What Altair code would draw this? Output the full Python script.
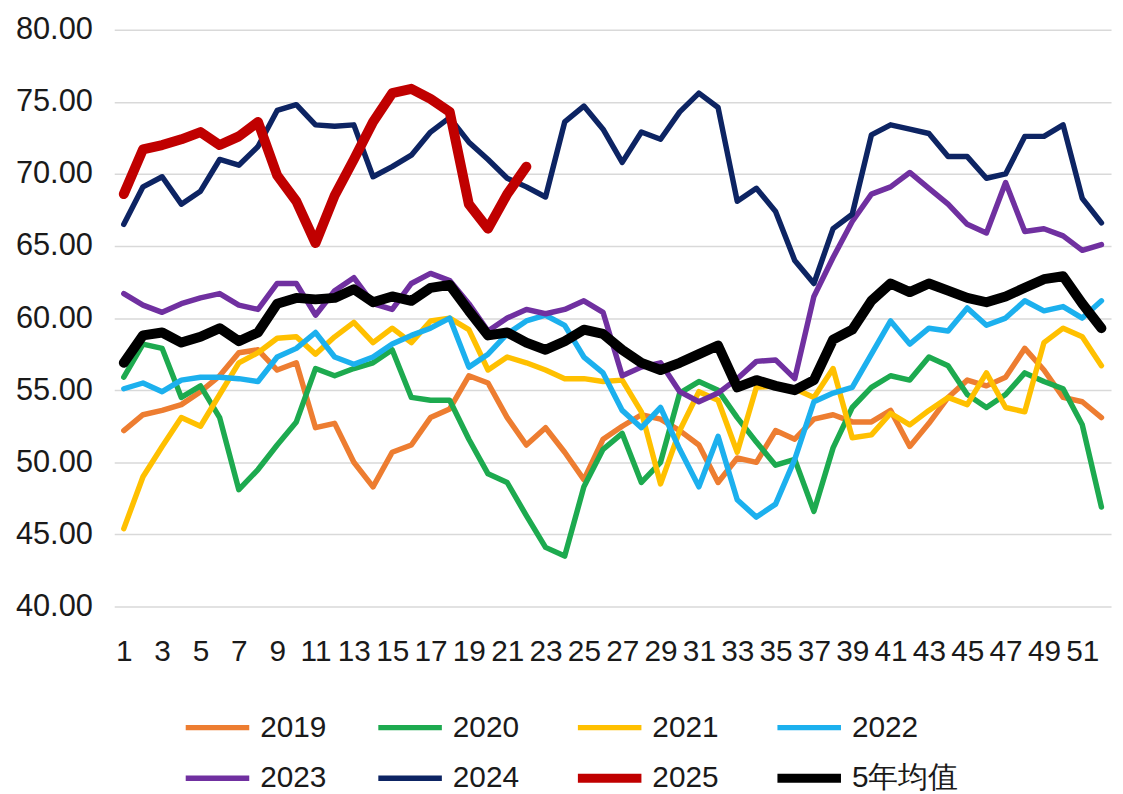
import altair as alt
import pandas as pd

weeks = list(range(1, 53))

s2019 = [52.2, 53.3, 53.6, 54.0, 54.9, 56.0, 57.6, 57.8, 56.4, 56.9,
         52.4, 52.7, 50.0, 48.3, 50.7, 51.2, 53.1, 53.7, 56.0, 55.5,
         53.1, 51.2, 52.4, 50.7, 48.8, 51.6, 52.5, 53.3, 53.0, 52.2,
         51.2, 48.6, 50.3, 50.0, 52.2, 51.6, 53.0, 53.3, 52.8, 52.8,
         53.6, 51.1, 52.7, 54.5, 55.7, 55.3, 55.9, 57.9, 56.4, 54.5,
         54.2, 53.1]
s2020 = [55.9, 58.2, 57.9, 54.5, 55.3, 53.1, 48.1, 49.5, 51.2, 52.8,
         56.5, 56.0, 56.5, 56.9, 57.8, 54.5, 54.3, 54.3, 51.6, 49.2,
         48.6, 46.3, 44.1, 43.5, 48.3, 50.9, 52.0, 48.6, 50.0, 54.8,
         55.6, 55.0, 53.1, 51.4, 49.8, 50.2, 46.6, 51.0, 53.8, 55.2,
         56.0, 55.7, 57.3, 56.7, 54.7, 53.8, 54.7, 56.2, 55.6, 55.1,
         52.6, 46.9]
s2021 = [45.4, 49.0, 51.1, 53.1, 52.5, 54.7, 56.9, 57.6, 58.6, 58.7,
         57.5, 58.7, 59.7, 58.3, 59.3, 58.3, 59.8, 60.0, 59.2, 56.4,
         57.3, 56.9, 56.4, 55.8, 55.8, 55.6, 55.7, 53.5, 48.5, 52.2,
         54.9, 54.3, 50.7, 55.2, 55.3, 55.1, 54.5, 56.5, 51.7, 51.9,
         53.4, 52.6, 53.6, 54.5, 54.0, 56.2, 53.8, 53.5, 58.3, 59.3,
         58.7, 56.7]
s2022 = [55.1, 55.5, 54.9, 55.7, 55.9, 55.9, 55.8, 55.6, 57.3, 57.9,
         59.0, 57.3, 56.8, 57.3, 58.2, 58.8, 59.3, 60.0, 56.6, 57.5,
         58.9, 59.8, 60.2, 59.5, 57.3, 56.2, 53.6, 52.4, 53.8, 50.9,
         48.3, 51.8, 47.4, 46.2, 47.1, 50.2, 54.2, 54.8, 55.2, 57.5,
         59.8, 58.2, 59.3, 59.1, 60.7, 59.5, 60.0, 61.2, 60.5, 60.8,
         60.0, 61.2]
s2023 = [61.7, 60.9, 60.4, 61.0, 61.4, 61.7, 60.9, 60.6, 62.4, 62.4,
         60.2, 61.9, 62.8, 61.0, 60.6, 62.4, 63.1, 62.6, 61.0, 59.1,
         60.0, 60.6, 60.3, 60.6, 61.2, 60.4, 56.0, 56.6, 56.9, 54.9,
         54.2, 54.8, 55.8, 57.0, 57.1, 55.8, 61.5, 64.2, 66.7, 68.6,
         69.1, 70.1, 69.0, 67.9, 66.5, 65.9, 69.4, 66.0, 66.2, 65.7,
         64.7, 65.1]
s2024 = [66.5, 69.1, 69.8, 67.9, 68.8, 71.0, 70.6, 71.9, 74.4, 74.8,
         73.4, 73.3, 73.4, 69.8, 70.5, 71.3, 72.9, 73.9, 72.2, 71.0,
         69.7, 69.1, 68.4, 73.6, 74.7, 73.1, 70.8, 72.9, 72.4, 74.3,
         75.6, 74.6, 68.1, 69.0, 67.4, 64.0, 62.4, 66.2, 67.2, 72.7,
         73.4, 73.1, 72.8, 71.2, 71.2, 69.7, 70.0, 72.6, 72.6, 73.4,
         68.3, 66.6]
s2025 = [68.6, 71.7, 72.0, 72.4, 72.9, 72.0, 72.6, 73.6, 69.9, 68.1,
         65.2, 68.5, 71.0, 73.6, 75.6, 75.9, 75.2, 74.3, 67.9, 66.2,
         68.6, 70.5]
avg5 = [56.9, 58.8, 59.0, 58.3, 58.7, 59.3, 58.4, 59.0, 61.0, 61.4,
        61.3, 61.4, 62.0, 61.1, 61.5, 61.2, 62.1, 62.3, 60.5, 58.8,
        59.0, 58.3, 57.8, 58.4, 59.2, 58.9, 57.8, 56.9, 56.4, 56.9,
        57.5, 58.1, 55.2, 55.7, 55.3, 55.0, 55.7, 58.5, 59.2, 61.2,
        62.4, 61.8, 62.4, 61.9, 61.4, 61.1, 61.5, 62.1, 62.7, 62.9,
        61.0, 59.3]

series_names = ["2019", "2020", "2021", "2022", "2023", "2024", "2025", "5年均值"]
series_values = [s2019, s2020, s2021, s2022, s2023, s2024, s2025, avg5]
series_colors = ["#ED7D31", "#1DAA4F", "#FFC000", "#1CB0EE",
                 "#7030A0", "#0D2463", "#C00000", "#000000"]
series_widths = [5.5, 5.5, 5.5, 5.5, 5.5, 5.5, 10, 10]

y_ticks = [40, 45, 50, 55, 60, 65, 70, 75, 80]
x_ticks = list(range(1, 53, 2))

rows = []
for name, vals, wdt in zip(series_names, series_values, series_widths):
    for w, v in zip(weeks, vals):
        rows.append({"week": w, "value": v, "series": name, "lw": wdt})
df = pd.DataFrame(rows)

FONT = "Liberation Sans"
TEXT = "#1a1a1a"

legend = alt.Legend(
    title=None,
    orient="none",
    direction="horizontal",
    legendX=89,
    legendY=688,
    columns=4,
    symbolType="stroke",
    symbolSize=4096,
    symbolStrokeWidth={"expr": "datum.value === '2025' || datum.value === '5年均值' ? 9 : 5.5"},
    labelFontSize=30,
    labelFont=FONT,
    labelColor=TEXT,
    labelOffset=28,
    columnPadding=41,
    rowPadding=18,
    padding=0,
)

chart = alt.Chart(df).mark_line(strokeCap="round", strokeJoin="round").encode(
    x=alt.X("week:Q",
            scale=alt.Scale(domain=[0.5, 52.5], nice=False, zero=False),
            axis=alt.Axis(values=x_ticks, title=None, grid=False, domain=False,
                          ticks=False, labelPadding=30, labelFontSize=30,
                          labelFont=FONT, labelColor=TEXT, labelOverlap=False,
                          labelFlush=False)),
    y=alt.Y("value:Q",
            scale=alt.Scale(domain=[40, 80], nice=False, zero=False),
            axis=alt.Axis(values=y_ticks, format=".2f", title=None, domain=False,
                          ticks=False, labelPadding=22, labelFontSize=31,
                          labelFont=FONT, labelColor=TEXT, gridColor="#d9d9d9",
                          gridWidth=1.5)),
    color=alt.Color("series:N",
                    scale=alt.Scale(domain=series_names, range=series_colors),
                    legend=legend),
    strokeWidth=alt.StrokeWidth("lw:Q", scale=None, legend=None),
).properties(
    width=1004,
    height=581,
    autosize=alt.AutoSizeParams(type="none"),
    padding={"left": 107, "top": 19, "right": 4, "bottom": 185},
).configure_view(stroke=None)

chart.save("out.html", embed_options={"renderer": "svg", "actions": False})
